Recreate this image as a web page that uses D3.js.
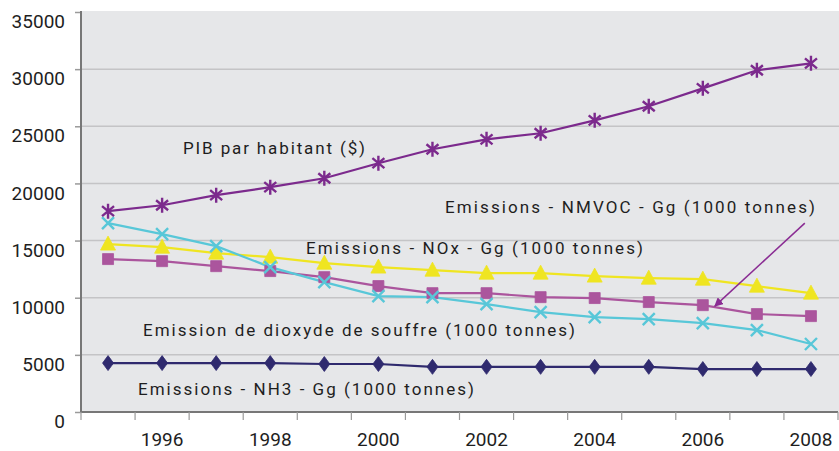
<!DOCTYPE html>
<html>
<head>
<meta charset="utf-8">
<script src="https://cdn.jsdelivr.net/npm/d3@7"></script>
<style>
  body { margin: 0; background: #fff; }
  text { font-family: Roboto, "Open Sans", sans-serif; fill: #1e1e1e; }
</style>
</head>
<body>
<div id="chart"></div>
<script>
const years = [1995, 1996, 1997, 1998, 1999, 2000, 2001, 2002, 2003, 2004, 2005, 2006, 2007, 2008];
const yearLabels = [1996, 1998, 2000, 2002, 2004, 2006, 2008];
const yTicks = [0, 5000, 10000, 15000, 20000, 25000, 30000, 35000];

const pib   = [17570, 18090, 18970, 19670, 20450, 21770, 22990, 23860, 24390, 25520, 26750, 28320, 29900, 30510];
const nox   = [14690, 14420, 13900, 13550, 13020, 12680, 12410, 12150, 12150, 11890, 11710, 11620, 11010, 10400];
const nmvoc = [13380, 13200, 12760, 12330, 11800, 11020, 10400, 10400, 10050, 9970, 9620, 9350, 8570, 8390];
const so2   = [16520, 15560, 14510, 12680, 11360, 10140, 10050, 9440, 8740, 8300, 8130, 7780, 7170, 5950];
const nh3   = [4280, 4280, 4280, 4280, 4200, 4200, 3950, 3950, 3950, 3950, 3950, 3760, 3760, 3760];

const labels = [
    { text: "PIB par habitant ($)", x: 183, y: 154, w: 182 },
    { text: "Emissions - NMVOC - Gg (1000 tonnes)", x: 445, y: 213, w: 370 },
    { text: "Emissions - NOx - Gg (1000 tonnes)", x: 306, y: 254, w: 337 },
    { text: "Emission de dioxyde de souffre (1000 tonnes)", x: 143, y: 336, w: 432 },
    { text: "Emissions - NH3 - Gg (1000 tonnes)", x: 138, y: 395, w: 336 }
];

const width = 839, height = 451;
const plot = { left: 81, right: 838, top: 12, bottom: 412 };

const svg = d3.select("#chart").append("svg")
    .attr("width", width)
    .attr("height", height);

const x = d3.scaleBand().domain(years).range([plot.left, plot.right]);
const y = d3.scaleLinear().domain([0, 35000]).range([plot.bottom, plot.top]);
const cx = function(i) { return x(years[i]) + x.bandwidth() / 2; };

// background
svg.append("rect")
    .attr("x", plot.left).attr("y", plot.top - 1)
    .attr("width", width - plot.left).attr("height", plot.bottom - plot.top + 1)
    .style("fill", "#e6e7e9");

// grid
svg.selectAll(".grid")
    .data(yTicks.filter(function(d) { return d > 0 && d < 35000; }))
    .enter().append("line")
    .attr("x1", plot.left).attr("x2", width)
    .attr("y1", function(d) { return y(d); })
    .attr("y2", function(d) { return y(d); })
    .style("stroke", "#c4c4c6")
    .style("stroke-width", 1.5);

// y axis
const yAxis = svg.append("g").attr("transform", "translate(" + plot.left + ",0)")
    .call(d3.axisLeft(y).tickValues(yTicks).tickSize(6).tickFormat(d3.format("d")));
yAxis.select(".domain").remove();
yAxis.selectAll(".tick line").style("stroke", "#9a9a9a").style("stroke-width", 1.5);
yAxis.selectAll(".tick text")
    .attr("x", -16).attr("dy", "0.82em")
    .style("font-size", "19px")
    .style("font-family", "Roboto, sans-serif")
    .style("fill", "#1e1e1e");
svg.append("line")
    .attr("x1", plot.left).attr("x2", plot.left)
    .attr("y1", plot.top - 1).attr("y2", plot.bottom)
    .style("stroke", "#777").style("stroke-width", 2);

// x axis
svg.append("line")
    .attr("x1", plot.left).attr("x2", plot.right)
    .attr("y1", plot.bottom).attr("y2", plot.bottom)
    .style("stroke", "#777").style("stroke-width", 2);
const bounds = years.map(function(d) { return x(d); }).concat([plot.right]);
svg.selectAll(".xtick")
    .data(bounds)
    .enter().append("line")
    .attr("x1", function(d) { return d; }).attr("x2", function(d) { return d; })
    .attr("y1", plot.bottom).attr("y2", plot.bottom + 8)
    .style("stroke", "#9a9a9a").style("stroke-width", 1.2);
svg.selectAll(".xlabel")
    .data(yearLabels)
    .enter().append("text")
    .attr("x", function(d) { return x(d) + x.bandwidth() / 2; })
    .attr("y", 446)
    .style("text-anchor", "middle")
    .style("font-size", "19px")
    .text(function(d) { return d; });

// marker shapes
const markers = {
    asterisk: "M0,-7.5L0,7.5M-6,-5L6,5M-6,5L6,-5",
    triangle: "M0,-8L7.5,6L-7.5,6Z",
    square: "M-5.5,-5.5H5.5V5.5H-5.5Z",
    cross: "M-6,-6L6,6M-6,6L6,-6",
    diamond: "M0,-7.5L5.5,0L0,7.5L-5.5,0Z"
};

const series = [
    { values: nh3, color: "#2f2a6e", marker: "diamond", filled: true },
    { values: nmvoc, color: "#ab559d", marker: "square", filled: true },
    { values: nox, color: "#efe521", marker: "triangle", filled: true },
    { values: so2, color: "#58c7d8", marker: "cross", filled: false },
    { values: pib, color: "#7c2a8d", marker: "asterisk", filled: false }
];

const line = d3.line()
    .x(function(d, i) { return cx(i); })
    .y(function(d) { return y(d); });

series.forEach(function(s) {
    svg.append("path")
        .datum(s.values)
        .attr("d", line)
        .style("fill", "none")
        .style("stroke", s.color)
        .style("stroke-width", 2.2);
});

series.forEach(function(s) {
    svg.selectAll(".m-" + s.marker)
        .data(s.values)
        .enter().append("path")
        .attr("class", "m-" + s.marker)
        .attr("transform", function(d, i) { return "translate(" + cx(i) + "," + y(d) + ")"; })
        .attr("d", markers[s.marker])
        .style("fill", s.filled ? s.color : "none")
        .style("stroke", s.color)
        .style("stroke-width", s.filled ? 0.8 : 2.4);
});

// labels
svg.selectAll(".lbl")
    .data(labels)
    .enter().append("text")
    .attr("x", function(d) { return d.x; })
    .attr("y", function(d) { return d.y; })
    .attr("textLength", function(d) { return d.w; })
    .attr("lengthAdjust", "spacing")
    .style("font-size", "17px")
    .text(function(d) { return d.text; });

// arrow to NMVOC 2006
const defs = svg.append("defs");
defs.append("marker")
    .attr("id", "arrow")
    .attr("viewBox", "0 0 10 10")
    .attr("refX", 9).attr("refY", 5)
    .attr("markerWidth", 9).attr("markerHeight", 9)
    .attr("markerUnits", "userSpaceOnUse")
    .attr("orient", "auto")
    .append("path")
    .attr("d", "M0,0L10,5L0,10Z")
    .style("fill", "#8a2c93");

const ai = years.indexOf(2006);
const tip = [cx(ai) + 12, y(nmvoc[ai]) + 1];
svg.append("line")
    .attr("x1", tip[0] + 90).attr("y1", tip[1] - 83)
    .attr("x2", tip[0]).attr("y2", tip[1])
    .attr("marker-end", "url(#arrow)")
    .style("stroke", "#8a2c93")
    .style("stroke-width", 1.5);
</script>
</body>
</html>
